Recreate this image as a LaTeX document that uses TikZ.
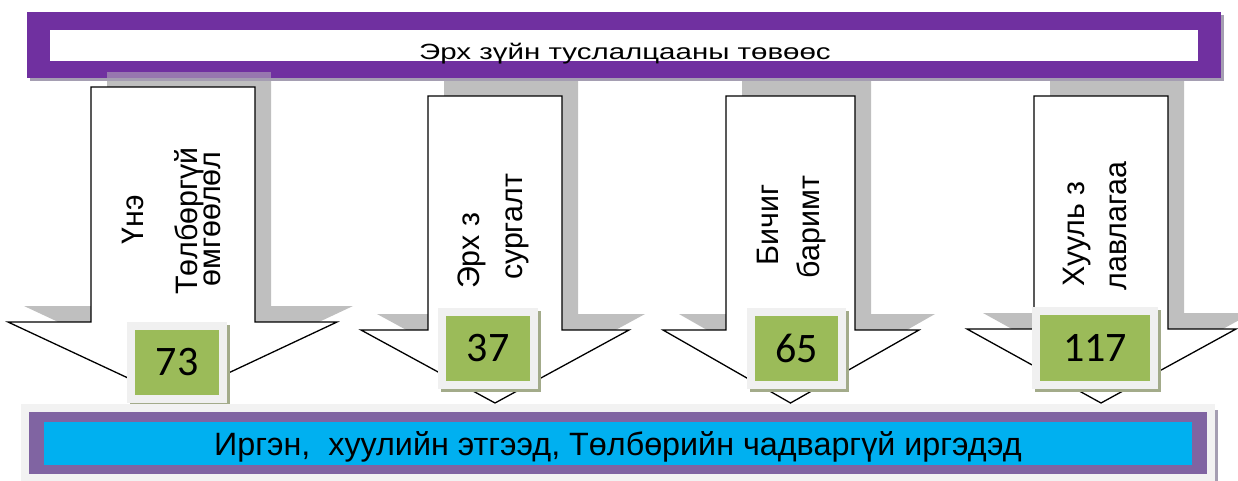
\documentclass[tikz,border=0pt]{standalone}
\usepackage{fontspec}
\setmainfont{Liberation Sans}
\newfontfamily\numfont{Carlito}
\usetikzlibrary{shadows}
\definecolor{barpurple}{RGB}{112,48,160}
\definecolor{barshade}{RGB}{165,158,178}
\definecolor{arrowshade}{RGB}{191,191,191}
\definecolor{numgreen}{RGB}{155,187,89}
\definecolor{numrim}{RGB}{240,240,240}
\definecolor{numshade}{RGB}{163,171,138}
\definecolor{basegray}{RGB}{242,242,242}
\definecolor{basepurple}{RGB}{128,100,162}
\definecolor{basecyan}{RGB}{0,176,240}
\newcommand{\vtext}[1]{\scalebox{0.98}[1]{#1}}
\tikzset{
  numbox/.style={fill=numgreen, draw=numrim, line width=8pt, inner sep=0pt,
    font=\numfont\fontsize{42}{42}\selectfont,
    drop shadow={shadow xshift=3pt, shadow yshift=-3pt, fill=numshade, draw=numshade, line width=8pt, opacity=1}},
  vlabel/.style={rotate=90, anchor=base, inner sep=0pt, font=\fontsize{31}{31}\selectfont},
  bigarrow/.style={fill=white, draw=black, line width=1.3pt, line join=miter},
}

\begin{document}
\begin{tikzpicture}[x=1pt, y=-1pt]
\useasboundingbox (0,0) rectangle (1238,480);
% shaft left/right, top, head line, head left/right, tip
\def\arrowlist{91/255/87/322/8/337/173/399, 428/562/96/330/361/629/495/403,
  726/855/96/330/663/919/790.5/403, 1034/1168/96/329/967/1236/1101/403}

\foreach \l/\r/\t/\h/\hl/\hr/\c/\p in \arrowlist
  \fill[arrowshade, xshift=16pt, yshift=16pt] (\l,\t) -- (\r,\t) -- (\r,\h) -- (\hr,\h) -- (\c,\p) -- (\hl,\h) -- (\l,\h) -- cycle;

% top bar
\fill[barshade] (30,15) rectangle (1224,81);
\fill[barpurple] (27,12) rectangle (1221,78);
\fill[white] (50,30) rectangle (1198,61);
\node[anchor=base, inner sep=0pt] (title) at (625,59)
  {\fontsize{22}{22}\selectfont\scalebox{1.34}[1]{Эрх зүйн туслалцааны төвөөс}};
\fill[arrowshade, opacity=.5] (107,72) rectangle (271,78);

\foreach \l/\r/\t/\h/\hl/\hr/\c/\p in \arrowlist
  \draw[bigarrow] (\l,\t) -- (\r,\t) -- (\r,\h) -- (\hr,\h) -- (\c,\p) -- (\hl,\h) -- (\l,\h) -- cycle;

\node[vlabel] (l1a) at (143,220) {\vtext{Үнэ}};
\node[vlabel] (l1b) at (197,221) {\vtext{Төлбөргүй}};
\node[vlabel] (l1c) at (220,219) {\vtext{өмгөөлөл}};
\node[vlabel] (l2a) at (479,251) {\vtext{Эрх з}};
\node[vlabel] (l2b) at (522,227) {\vtext{сургалт}};
\node[vlabel] (l3a) at (778,225) {\vtext{Бичиг}};
\node[vlabel] (l3b) at (819,227) {\vtext{баримт}};
\node[vlabel] (l4a) at (1084,234) {\vtext{Хууль з}};
\node[vlabel] (l4b) at (1126,226) {\vtext{лавлагаа}};

\node[numbox, minimum width=92pt, minimum height=73pt] (n73) at (177,362.5) {73};
\node[numbox, minimum width=92pt, minimum height=73pt] (n37) at (488,348.5) {37};
\node[numbox, minimum width=91pt, minimum height=73pt] (n65) at (796.5,348.5) {65};
\node[numbox, minimum width=118pt, minimum height=74pt] (n117) at (1095,348) {117};

% bottom panel
\fill[barshade] (24,410) rectangle (1218,490);
\fill[basegray] (21,404) rectangle (1215,490);
\fill[basepurple] (29,412) rectangle (1207,474);
\fill[basecyan] (44,422) rectangle (1192,465);
\node[anchor=base, inner sep=0pt, font=\fontsize{32.3}{33}\selectfont] (target) at (618,455)
  {Иргэн,\ \ хуулийн этгээд, Төлбөрийн чадваргүй иргэдэд};
\end{tikzpicture}
\end{document}
